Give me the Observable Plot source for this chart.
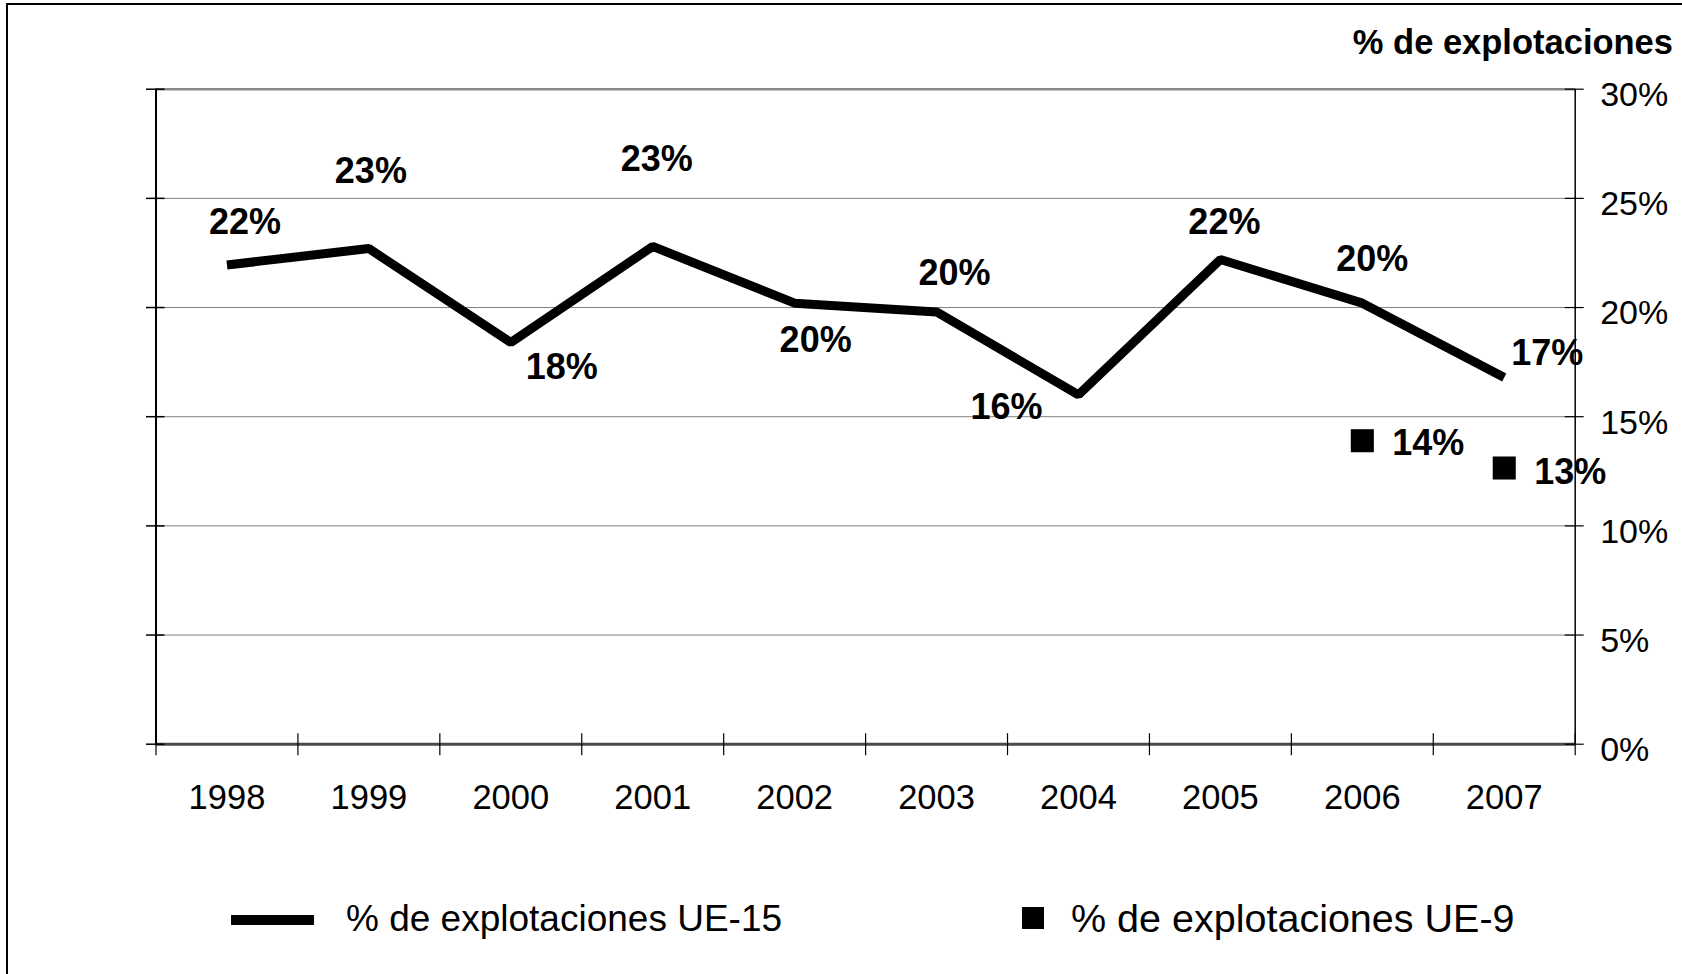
<!DOCTYPE html>
<html>
<head>
<meta charset="utf-8">
<script src="https://cdn.jsdelivr.net/npm/d3@7"></script>
<script src="https://cdn.jsdelivr.net/npm/@observablehq/plot@0.6"></script>
<style>
  html, body { margin: 0; padding: 0; background: #fff; overflow: hidden; }
  #page { position: relative; width: 1682px; height: 974px; font-family: "Liberation Sans", Arial, sans-serif; color: #000; }
  #frame { position: absolute; left: 6px; top: 3px; width: 1700px; height: 1000px; border-top: 2px solid #000; border-left: 2px solid #000; pointer-events: none; }
  #title { position: absolute; top: 0; left: 0; width: 1682px; height: 62px; }
  #title span { position: absolute; right: 9px; top: 25px; font-weight: bold; font-size: 34.5px; line-height: 1; white-space: nowrap; }
  #chart { position: absolute; top: 62px; left: 0; }
  #legend { position: absolute; top: 840px; left: 0; width: 1682px; height: 134px; }
  #legend .swatch-line { position: absolute; left: 231px; top: 75px; width: 83px; height: 10px; background: #000; }
  #legend .swatch-square { position: absolute; left: 1022px; top: 67px; width: 22px; height: 22px; background: #000; }
  #legend .lbl { position: absolute; line-height: 1; white-space: nowrap; }
</style>
</head>
<body>
<div id="page">
  <div id="title"><span>% de explotaciones</span></div>
  <div id="chart"></div>
  <div id="legend">
    <div class="swatch-line"></div>
    <span class="lbl" id="lbl15" style="left:346px; top:60px; font-size:37px;"></span>
    <div class="swatch-square"></div>
    <span class="lbl" id="lbl9" style="left:1071px; top:59px; font-size:39.5px;"></span>
  </div>
  <div id="frame"></div>
</div>
<script>
// Years on the horizontal axis
const years = [1998, 1999, 2000, 2001, 2002, 2003, 2004, 2005, 2006, 2007];
// Share of holdings, EU-15 (%)
const ue15 = [21.95, 22.7, 18.4, 22.8, 20.2, 19.8, 16.0, 22.2, 20.2, 16.8];
// Share of holdings, EU-9 (%), only available for the last two years
const ue9Years = [2006, 2007];
const ue9 = [13.9, 12.65];
// Value axis ticks (%)
const yTicks = [0, 5, 10, 15, 20, 25, 30];
// Series names
const seriesNames = ["% de explotaciones UE-15", "% de explotaciones UE-9"];

// Hand-placed label nudges (pixels) so the labels clear the thick line
const ue15LabelNudge = [[18, -42], [2, -77], [51, 25], [4, -87], [21, 37], [18, -38], [-72, 13], [4, -37], [10, -44], [43, -24]];
const ue9LabelNudge = [[66, 3], [66, 4]];

const ue15Rows = years.map((year, i) => ({year, value: ue15[i]}));
const ue9Rows = ue9Years.map((year, i) => ({year, value: ue9[i]}));
const pct = v => Math.round(v) + "%";

const xDomain = [years[0] - 0.5, years[years.length - 1] + 0.5];
const boundaries = d3.range(xDomain[0], xDomain[1] + 0.01, 1);
const yMax = yTicks[yTicks.length - 1];
const innerGrid = yTicks.filter(t => t > 0 && t < yMax);

const labelFont = {fontSize: 36, fontWeight: "bold", fill: "#000", textAnchor: "middle", lineAnchor: "middle"};

const marks = [
  // horizontal gridlines
  Plot.ruleY(innerGrid, {stroke: "#808080", strokeWidth: 1}),
  Plot.ruleY([yMax], {stroke: "#8a8a8a", strokeWidth: 2.5}),
  Plot.ruleY([0], {stroke: "#4a4a4a", strokeWidth: 3}),
  // vertical axis lines on both sides
  Plot.ruleX([xDomain[0]], {stroke: "#000", strokeWidth: 2}),
  Plot.ruleX([xDomain[1]], {stroke: "#000", strokeWidth: 1.5}),
  // crossing tick marks on the category axis (between years)
  Plot.ruleX(boundaries, {x: d => d, y1: 0, y2: 0, insetTop: -10.5, insetBottom: -11.5, stroke: "#000", strokeWidth: 1.2}),
  // crossing tick marks on both value axes
  Plot.ruleY(yTicks, {y: d => d, x1: xDomain[0], x2: xDomain[0], insetLeft: -9.5, insetRight: -9, stroke: "#000", strokeWidth: 1.5}),
  Plot.ruleY(yTicks, {y: d => d, x1: xDomain[1], x2: xDomain[1], insetLeft: -10, insetRight: -9, stroke: "#000", strokeWidth: 1.2}),
  // axes labels
  Plot.axisX(years, {anchor: "bottom", tickSize: 0, tickPadding: 40, tickFormat: d => String(d), fontSize: 34.5, label: null}),
  Plot.axisY(yTicks, {anchor: "right", tickSize: 0, tickPadding: 25, tickFormat: d => d + "%", fontSize: 34, dy: 6, label: null}),
  // EU-15 series
  Plot.line(ue15Rows, {x: "year", y: "value", stroke: "#000", strokeWidth: 9, strokeLinejoin: "miter", strokeLinecap: "butt"}),
  // EU-9 series
  Plot.dot(ue9Rows, {x: "year", y: "value", symbol: "square", r: 13, fill: "#000", stroke: null}),
  // value labels
  ...ue15Rows.map((d, i) => Plot.text([d], {x: "year", y: "value", text: r => pct(r.value), dx: ue15LabelNudge[i][0], dy: ue15LabelNudge[i][1], ...labelFont})),
  ...ue9Rows.map((d, i) => Plot.text([d], {x: "year", y: "value", text: r => pct(r.value), dx: ue9LabelNudge[i][0], dy: ue9LabelNudge[i][1], ...labelFont}))
];

const chart = Plot.plot({
  width: 1682,
  height: 778,
  marginLeft: 155.5,
  marginRight: 107.3,
  marginTop: 26.7,
  marginBottom: 96.3,
  x: {type: "linear", domain: xDomain},
  y: {type: "linear", domain: [0, yMax]},
  style: {fontFamily: "'Liberation Sans', Arial, sans-serif", color: "#000", background: "transparent", overflow: "visible"},
  marks
});
document.getElementById("chart").appendChild(chart);
document.getElementById("lbl15").textContent = seriesNames[0];
document.getElementById("lbl9").textContent = seriesNames[1];
</script>
</body>
</html>
